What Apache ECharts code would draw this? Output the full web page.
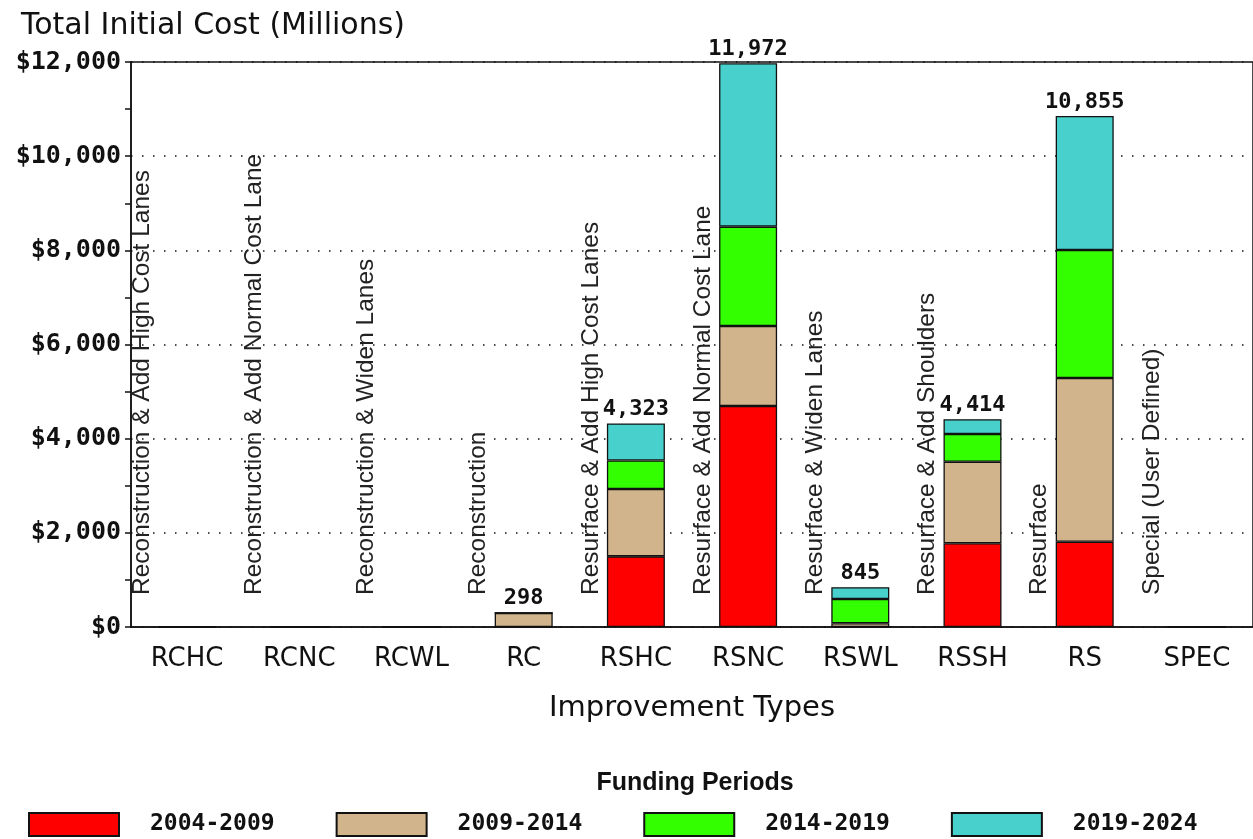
<!DOCTYPE html>
<html>
<head>
<meta charset="utf-8">
<script src="https://cdn.jsdelivr.net/npm/echarts@6/dist/echarts.min.js"></script>
<style>
html,body{margin:0;padding:0;background:#fff;}
#chart{width:1253px;height:839px;}
</style>
</head>
<body>
<div id="chart"></div>
<script>
const categories = ['RCHC','RCNC','RCWL','RC','RSHC','RSNC','RSWL','RSSH','RS','SPEC'];
const descriptions = [
  'Reconstruction & Add High Cost Lanes',
  'Reconstruction & Add Normal Cost Lane',
  'Reconstruction & Widen Lanes',
  'Reconstruction',
  'Resurface & Add High Cost Lanes',
  'Resurface & Add Normal Cost Lane',
  'Resurface & Widen Lanes',
  'Resurface & Add Shoulders',
  'Resurface',
  'Special (User Defined)'
];
const periods = ['2004-2009','2009-2014','2014-2019','2019-2024'];
const p2004 = [0,0,0,0,1500,4694,0,1778,1812,0];
const p2009 = [0,0,0,298,1430,1699,80,1733,3477,0];
const p2014 = [0,0,0,0,607,2110,515,588,2719,0];
const p2019 = [0,0,0,0,786,3469,250,315,2847,0];
const totals = [0,0,0,298,4323,11972,845,4414,10855,0];
const yTicks = {min:0, max:12000, interval:2000};

const colors = ['#FF0000','#D2B48C','#33FF00','#48D1CC'];
const seriesData = [p2004,p2009,p2014,p2019];

const chart = echarts.init(document.getElementById('chart'));

const barSeries = periods.map((name, k) => ({
  name: name,
  type: 'bar',
  stack: 'total',
  barWidth: 58,
  data: seriesData[k],
  itemStyle: {color: colors[k], borderColor: '#111', borderWidth: 1.3},
  label: k === 3 ? {
    show: true,
    position: 'top',
    distance: 3,
    formatter: p => totals[p.dataIndex] ? totals[p.dataIndex].toLocaleString('en-US') : '',
    fontFamily: 'DejaVu Sans Mono',
    fontWeight: 'bold',
    fontSize: 22,
    color: '#111'
  } : {show: false},
  emphasis: {disabled: true},
  z: 3
}));

const descSeries = {
  type: 'custom',
  name: 'desc',
  data: categories.map((c, i) => [i, 0]),
  renderItem: function (params, api) {
    const pt = api.coord([api.value(0), 0]);
    return {
      type: 'text',
      x: pt[0] - 45,
      y: pt[1] - 32,
      rotation: Math.PI / 2,
      style: {
        text: descriptions[params.dataIndex],
        fontFamily: 'Liberation Sans',
        fontSize: 24.5,
        fill: '#222',
        textAlign: 'left',
        textVerticalAlign: 'middle'
      }
    };
  },
  silent: true,
  z: 2
};

chart.setOption({
  animation: false,
  backgroundColor: '#fff',
  title: [
    {text: 'Total Initial Cost (Millions)', left: 21, top: 11, padding: 0,
     textStyle: {fontFamily: 'DejaVu Sans', fontWeight: 'normal', fontSize: 30, color: '#111'}},
    {text: 'Funding Periods', left: 695, top: 771, textAlign: 'center', padding: 0,
     textStyle: {fontFamily: 'Liberation Sans', fontWeight: 'bold', fontSize: 25, color: '#111'}}
  ],
  legend: {
    data: periods,
    left: 28,
    top: 812,
    padding: 0,
    itemWidth: 90,
    itemHeight: 23,
    itemGap: 61,
    icon: 'rect',
    textStyle: {fontFamily: 'DejaVu Sans Mono', fontWeight: 'bold', fontSize: 23, color: '#111',
                padding: [0,0,0,26]},
    selectedMode: false
  },
  grid: {left: 131, top: 62, width: 1133, height: 565, show: true,
         borderColor: '#111', borderWidth: 1.5, backgroundColor: 'transparent'},
  xAxis: {
    type: 'category',
    data: categories,
    name: 'Improvement Types',
    nameLocation: 'middle',
    nameGap: 67,
    nameTextStyle: {fontFamily: 'DejaVu Sans', fontSize: 29, color: '#111'},
    axisLine: {lineStyle: {color: '#111', width: 1.5}},
    axisTick: {alignWithLabel: true, length: 6, lineStyle: {color: '#111', width: 1.5}},
    axisLabel: {margin: 19, fontFamily: 'DejaVu Sans', fontSize: 26, color: '#111'}
  },
  yAxis: {
    type: 'value',
    min: yTicks.min, max: yTicks.max, interval: yTicks.interval,
    axisLine: {show: true, lineStyle: {color: '#111', width: 1.5}},
    axisTick: {show: true, length: 6, lineStyle: {color: '#111', width: 1.5}},
    minorTick: {show: true, splitNumber: 2, length: 6, lineStyle: {color: '#111', width: 1.5}},
    axisLabel: {
      margin: 10,
      formatter: v => '$' + v.toLocaleString('en-US'),
      fontFamily: 'DejaVu Sans Mono', fontWeight: 'bold', fontSize: 25, color: '#111'
    },
    splitLine: {show: true, lineStyle: {color: '#111', width: 1.5, type: [1.5, 9.5]}}
  },
  series: [...barSeries, descSeries]
});
</script>
</body>
</html>
